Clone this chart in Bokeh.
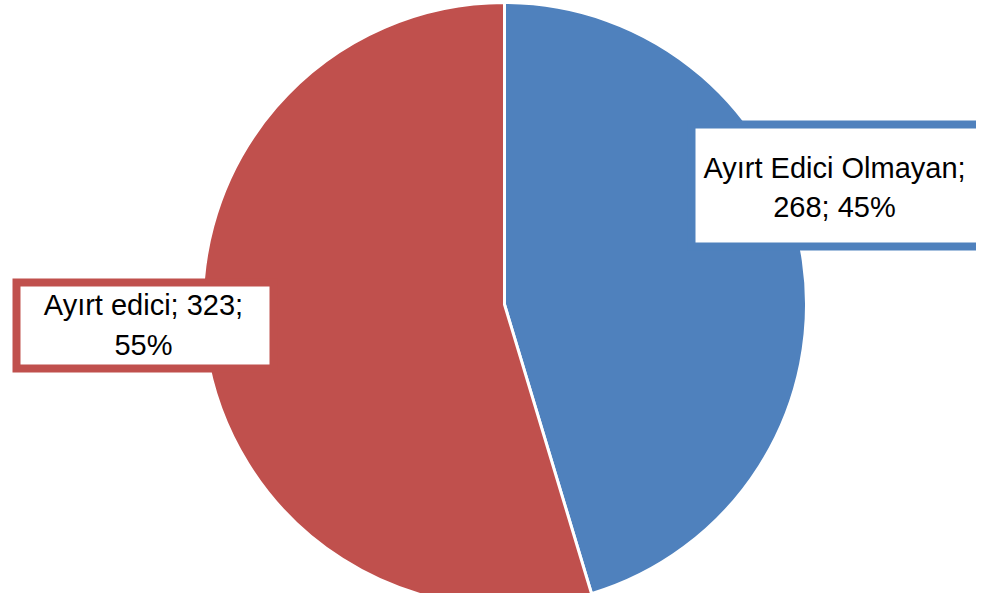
import math
from bokeh.plotting import figure
from bokeh.models import Range1d
from bokeh.embed import file_html
from bokeh.resources import INLINE
from bokeh.core.properties import value

categories = ["Ayırt Edici Olmayan", "Ayırt edici"]
counts = [268, 323]
percents = [45, 55]
colors = ["#4F81BD", "#C0504D"]

W, H = 976, 593
def py(y):  # screen y (from top) -> data y
    return H - y

p = figure(width=W, height=H, output_backend="svg", toolbar_location=None,
           x_range=Range1d(0, W), y_range=Range1d(0, H),
           x_axis_location=None, y_axis_location=None, min_border=0)
p.grid.visible = False
p.outline_line_color = None
p.background_fill_color = "white"

cx, cy, r = 504, py(304), 302
total = sum(counts)
cum = 0.0
starts, ends = [], []
for c in counts:
    a0 = math.pi / 2 - 2 * math.pi * cum / total
    cum += c
    a1 = math.pi / 2 - 2 * math.pi * cum / total
    starts.append(a0)
    ends.append(a1)

p.wedge(x=[cx] * len(counts), y=[cy] * len(counts), radius=r,
        start_angle=starts, end_angle=ends, direction="clock",
        fill_color=colors, line_color="white", line_width=3)

font = value("Liberation Sans")
fs = "29px"

# blue label
p.quad(left=[691], right=[1010], top=[py(124)], bottom=[py(246)],
       fill_color="white", line_color=colors[0], line_width=8, line_join="miter")
p.text(x=[834, 834], y=[py(167), py(206)],
       text=[f"{categories[0]};", f"{counts[0]}; {percents[0]}%"],
       text_align="center", text_baseline="alphabetic",
       text_font=font, text_font_size=fs, text_color="black")

# red label
p.quad(left=[16], right=[273], top=[py(282)], bottom=[py(368)],
       fill_color="white", line_color=colors[1], line_width=8, line_join="miter")
p.text(x=[143, 143], y=[py(304), py(344)],
       text=[f"{categories[1]}; {counts[1]};", f"{percents[1]}%"],
       text_align="center", text_baseline="alphabetic",
       text_font=font, text_font_size=fs, text_color="black")

open("out.html", "w").write(file_html(p, INLINE))
